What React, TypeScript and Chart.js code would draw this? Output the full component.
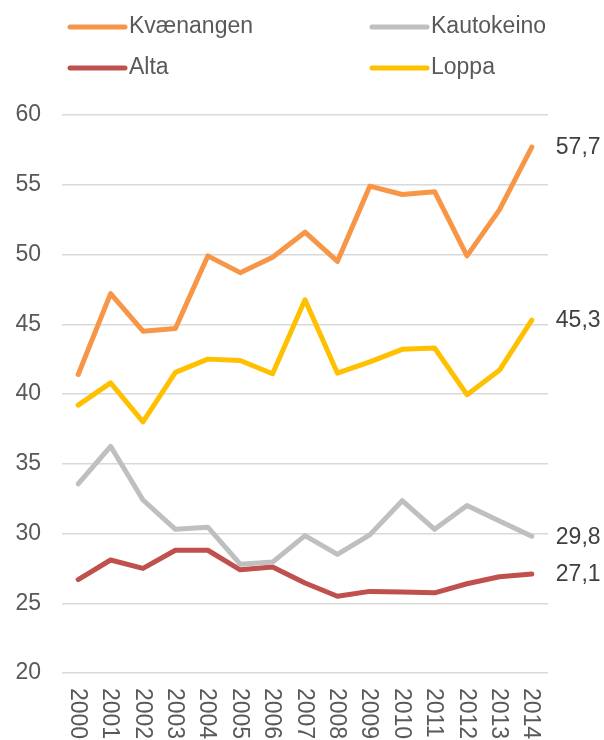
import React, { useEffect, useRef } from "react";
import { Chart, registerables } from "chart.js";

Chart.register(...registerables);

const years = ["2000","2001","2002","2003","2004","2005","2006","2007","2008","2009","2010","2011","2012","2013","2014"];
const kvaenangen = [41.4, 47.2, 44.5, 44.7, 49.9, 48.7, 49.8, 51.6, 49.5, 54.9, 54.3, 54.5, 49.9, 53.2, 57.7];
const kautokeino = [33.55, 36.25, 32.4, 30.3, 30.45, 27.8, 27.95, 29.85, 28.5, 29.9, 32.35, 30.3, 32.0, 30.9, 29.8];
const alta = [26.7, 28.1, 27.5, 28.8, 28.8, 27.4, 27.6, 26.45, 25.5, 25.85, 25.8, 25.75, 26.4, 26.9, 27.1];
const loppa = [39.2, 40.8, 38.0, 41.55, 42.5, 42.4, 41.45, 46.75, 41.5, 42.3, 43.2, 43.3, 39.95, 41.7, 45.3];
const seriesNames = ["Kvænangen", "Kautokeino", "Alta", "Loppa"];
const endLabels = ["57,7", "29,8", "27,1", "45,3"];
const yMin = 20;
const yMax = 60;
const yStep = 5;

const colors = ["#F79646", "#BFBFBF", "#C0504D", "#FFC000"];
const FONT = "'Liberation Sans', Arial, sans-serif";
const TEXT = "#595959";

const customPlugin = {
  id: "custom",
  afterDraw(chart: any) {
    const ctx = chart.ctx;
    const xs = chart.scales.x;
    ctx.save();
    // x labels rotated clockwise
    ctx.font = `23px ${FONT}`;
    ctx.fillStyle = TEXT;
    ctx.textAlign = "left";
    ctx.textBaseline = "middle";
    years.forEach((lab, i) => {
      const x = xs.getPixelForTick(i);
      ctx.save();
      ctx.translate(x - 1, chart.chartArea.bottom + 15);
      ctx.rotate(Math.PI / 2);
      ctx.fillText(lab, 0, 0);
      ctx.restore();
    });
    // end labels
    ctx.fillStyle = "#404040";
    chart.data.datasets.forEach((ds: any, di: number) => {
      const meta = chart.getDatasetMeta(di);
      const pt = meta.data[meta.data.length - 1];
      ctx.fillText(endLabels[di], pt.x + 24, pt.y + 1);
    });
    // legend
    const cols = [70, 372];
    const rows = [27, 68];
    chart.data.datasets.forEach((ds: any, di: number) => {
      const cx = cols[di % 2];
      const cy = rows[Math.floor(di / 2)];
      ctx.strokeStyle = ds.borderColor;
      ctx.lineWidth = 5;
      ctx.lineCap = "round";
      ctx.beginPath();
      ctx.moveTo(cx, cy);
      ctx.lineTo(cx + 55, cy);
      ctx.stroke();
      ctx.fillStyle = TEXT;
      ctx.textAlign = "left";
      ctx.textBaseline = "middle";
      ctx.fillText(ds.label, cx + 59, cy);
    });
    ctx.restore();
  },
};

export default function App() {
  const ref = useRef<HTMLCanvasElement | null>(null);
  useEffect(() => {
    if (!ref.current) return;
    const series = [kvaenangen, kautokeino, alta, loppa];
    const chart = new Chart(ref.current, {
      type: "line",
      data: {
        labels: years,
        datasets: series.map((d, i) => ({
          label: seriesNames[i],
          data: d,
          borderColor: colors[i],
          backgroundColor: colors[i],
          borderWidth: 5,
          pointRadius: 0,
          tension: 0,
          borderJoinStyle: "round" as const,
          borderCapStyle: "round" as const,
        })),
      },
      options: {
        animation: false,
        responsive: false,
        maintainAspectRatio: false,
        layout: { padding: { left: 0, right: 56, top: 115, bottom: 0 } },
        plugins: { legend: { display: false }, tooltip: { enabled: false } },
        scales: {
          x: {
            offset: true,
            grid: { display: false },
            border: { display: false },
            ticks: { display: false },
            afterFit(scale: any) { scale.height = 67; },
          },
          y: {
            min: yMin,
            max: yMax,
            ticks: {
              stepSize: yStep,
              padding: 21,
              color: TEXT,
              font: { family: FONT, size: 23 },
            },
            grid: { color: "#D9D9D9", lineWidth: 1.5, drawTicks: false },
            border: { display: false },
            afterFit(scale: any) { scale.width = 62; },
          },
        },
      },
      plugins: [customPlugin],
    });
    return () => chart.destroy();
  }, []);
  return (
    <div style={{ position: "absolute", left: 0, top: 0, width: 604, height: 740, background: "#fff" }}>
      <canvas ref={ref} width={604} height={740} style={{ display: "block" }} />
    </div>
  );
}
